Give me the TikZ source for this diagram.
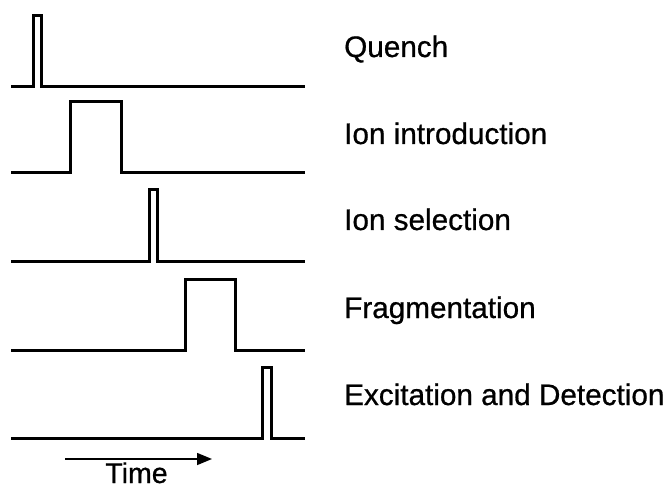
\documentclass[tikz,border=0pt]{standalone}
\usepackage{fontspec}
\setmainfont{Liberation Sans}
% slightly heavier strokes for the labels
\newfontfamily\labelfont{Liberation Sans}[FakeBold=0.7]
\usetikzlibrary{arrows.meta}

\tikzset{
  signal/.style={draw=black, line width=3bp, line join=miter},
  phase/.style={anchor=base west, inner sep=0pt, font=\labelfont\fontsize{29.7bp}{34bp}\selectfont},
  timearrow/.style={draw=black, line width=1.5bp, -{Triangle[length=15bp,width=12bp]}},
  timelabel/.style={anchor=base, inner sep=0pt, font=\labelfont\fontsize{28.5bp}{34bp}\selectfont}
}

% pulse train: baseline y, rising edge x1, falling edge x2
\newcommand{\pulsetrace}[3]{%
  \draw[signal] (11,#1) -- (#2,#1) -- (#2,#1-71) -- (#3,#1-71) -- (#3,#1) -- (305,#1);%
}

\begin{document}
\begin{tikzpicture}[x=1bp,y=-1bp]
  \useasboundingbox (0,0) rectangle (668,488);

  % timing traces
  \pulsetrace{86.5}{33}{41.5}
  \pulsetrace{173}{70}{121.5}
  \pulsetrace{261}{149}{157.5}
  \pulsetrace{350}{185.5}{235.5}
  \pulsetrace{438.5}{262.5}{271}

  % phase labels
  \node[phase] (quench) at (344,57) {Quench};
  \node[phase] (intro)  at (344,144) {Ion introduction};
  \node[phase] (select) at (344,230) {Ion selection};
  \node[phase] (frag)   at (344,318) {Fragmentation};
  \node[phase] (detect) at (344,405) {Excitation and Detection};

  % time axis
  \coordinate (tstart) at (65,459);
  \coordinate (tend)   at (212,459);
  \draw[timearrow] (tstart) -- (tend);
  \node[timelabel] (time) at (136.5,483) {Time};
\end{tikzpicture}
\end{document}
